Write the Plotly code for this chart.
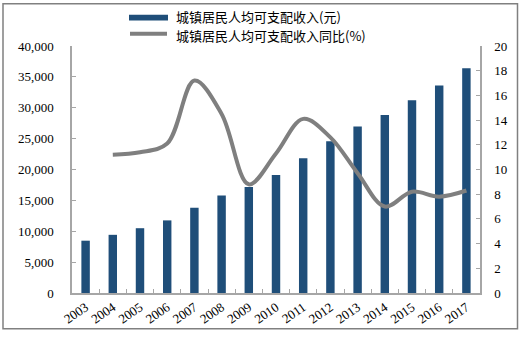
import plotly.graph_objects as go

years = ["2003", "2004", "2005", "2006", "2007", "2008", "2009", "2010",
         "2011", "2012", "2013", "2014", "2015", "2016", "2017"]
income = [8472, 9422, 10493, 11759, 13786, 15781, 17175, 19109,
          21810, 24565, 26955, 28844, 31195, 33616, 36396]
growth_years = years[1:]
growth = [11.2, 11.4, 12.1, 17.2, 14.5, 8.8, 11.3, 14.1, 12.6, 9.7, 7.0, 8.2, 7.8, 8.3]

left_ticks = [0, 5000, 10000, 15000, 20000, 25000, 30000, 35000, 40000]
left_ticktext = ["0", "5,000", "10,000", "15,000", "20,000", "25,000", "30,000", "35,000", "40,000"]
right_ticks = [0, 2, 4, 6, 8, 10, 12, 14, 16, 18, 20]

legend_labels = ["城镇居民人均可支配收入(元)", "城镇居民人均可支配收入同比(%)"]

BLUE = "#1F4E79"
GRAY = "#7F7F7F"
AXIS = "#A6A6A6"

fig = go.Figure()
fig.add_trace(go.Bar(x=years, y=income, marker=dict(color=BLUE, line=dict(width=0)),
                     name=legend_labels[0], showlegend=False))
fig.add_trace(go.Scatter(x=growth_years, y=growth, mode="lines", yaxis="y2",
                         line=dict(color=GRAY, width=4, shape="spline", smoothing=1.0),
                         name=legend_labels[1], showlegend=False))

L, R, T, B = 72, 41, 46, 41
W, H = 521, 339
pw, ph = W - L - R, H - T - B


def px(x):
    return (x - L) / pw


def py(y):
    return (H - B - y) / ph


tickfont = dict(family="Liberation Serif, Times New Roman, serif", size=13, color="#000000")

fig.update_layout(
    width=W, height=H,
    margin=dict(l=L, r=R, t=T, b=B, pad=0),
    paper_bgcolor="white", plot_bgcolor="white",
    bargap=0.69,
    xaxis=dict(type="category", range=[-0.5, 14.5], showgrid=False,
               showline=True, linecolor=AXIS, linewidth=1.5,
               ticks="inside", ticklen=4, tickcolor=AXIS, tickson="boundaries",
               tickangle=-35, tickfont=tickfont),
    yaxis=dict(range=[0, 40000], tickvals=left_ticks, ticktext=left_ticktext,
               showgrid=False, zeroline=False, showline=True, linecolor=AXIS, linewidth=1.5,
               ticks="inside", ticklen=4, tickcolor=AXIS, tickfont=tickfont,
               ticklabelstandoff=14),
    yaxis2=dict(range=[0, 20], tickvals=right_ticks, overlaying="y", side="right",
                showgrid=False, zeroline=False, showline=True, linecolor=AXIS, linewidth=1.5,
                ticks="inside", ticklen=4, tickcolor=AXIS, tickfont=tickfont,
                ticklabelstandoff=10),
    showlegend=False,
)

shapes = [
    # outer frame
    dict(type="rect", xref="paper", yref="paper", x0=px(3), x1=px(517.5), y0=py(334.5), y1=py(3),
         line=dict(color="#808080", width=1.5), fillcolor="rgba(0,0,0,0)", layer="below"),
    # legend symbols
    dict(type="rect", xref="paper", yref="paper", x0=px(129), x1=px(168), y0=py(20), y1=py(14),
         line=dict(width=0), fillcolor=BLUE),
    dict(type="line", xref="paper", yref="paper", x0=px(130), x1=px(167), y0=py(33.5), y1=py(33.5),
         line=dict(color=GRAY, width=4)),
]
annotations = [
    dict(text=legend_labels[0], xref="paper", yref="paper", x=px(174), y=py(15.5),
         xanchor="left", yanchor="middle", showarrow=False,
         font=dict(family="Noto Sans CJK SC", size=13, color="#000000")),
    dict(text=legend_labels[1], xref="paper", yref="paper", x=px(174), y=py(35),
         xanchor="left", yanchor="middle", showarrow=False,
         font=dict(family="Noto Sans CJK SC", size=13, color="#000000")),
]
fig.update_layout(shapes=shapes, annotations=annotations)

fig.write_html("out.html")
